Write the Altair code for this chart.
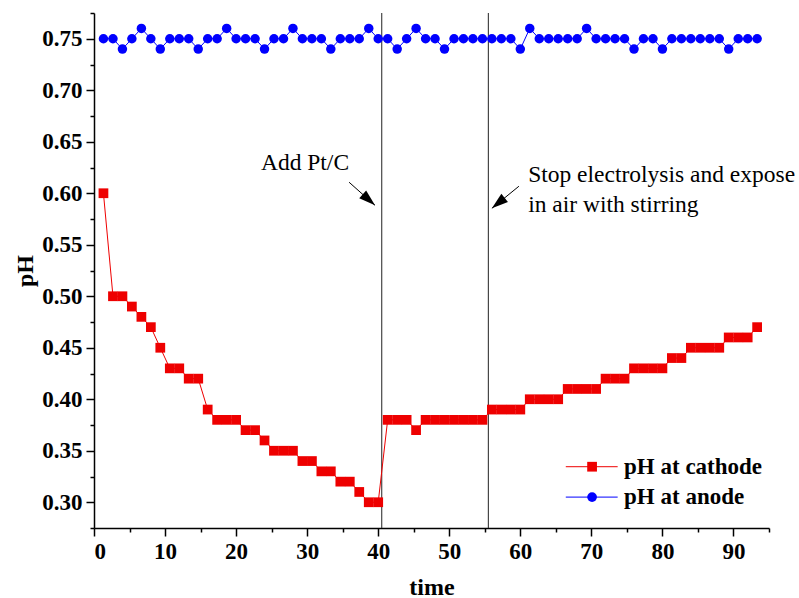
import altair as alt
import pandas as pd

# ---------------- data ----------------
time = [1.33, 2.67, 4.00, 5.33, 6.67, 8.00, 9.33, 10.67, 12.00, 13.33,
        14.67, 16.00, 17.33, 18.67, 20.00, 21.33, 22.67, 24.00, 25.33, 26.67,
        28.00, 29.33, 30.67, 32.00, 33.33, 34.67, 36.00, 37.33, 38.67, 40.00,
        41.33, 42.67, 44.00, 45.33, 46.67, 48.00, 49.33, 50.67, 52.00, 53.33,
        54.67, 56.00, 57.33, 58.67, 60.00, 61.33, 62.67, 64.00, 65.33, 66.67,
        68.00, 69.33, 70.67, 72.00, 73.33, 74.67, 76.00, 77.33, 78.67, 80.00,
        81.33, 82.67, 84.00, 85.33, 86.67, 88.00, 89.33, 90.67, 92.00, 93.33]

ph_cathode = [0.60, 0.50, 0.50, 0.49, 0.48, 0.47, 0.45, 0.43, 0.43, 0.42,
              0.42, 0.39, 0.38, 0.38, 0.38, 0.37, 0.37, 0.36, 0.35, 0.35,
              0.35, 0.34, 0.34, 0.33, 0.33, 0.32, 0.32, 0.31, 0.30, 0.30,
              0.38, 0.38, 0.38, 0.37, 0.38, 0.38, 0.38, 0.38, 0.38, 0.38,
              0.38, 0.39, 0.39, 0.39, 0.39, 0.40, 0.40, 0.40, 0.40, 0.41,
              0.41, 0.41, 0.41, 0.42, 0.42, 0.42, 0.43, 0.43, 0.43, 0.43,
              0.44, 0.44, 0.45, 0.45, 0.45, 0.45, 0.46, 0.46, 0.46, 0.47]

ph_anode = [0.75, 0.75, 0.74, 0.75, 0.76, 0.75, 0.74, 0.75, 0.75, 0.75,
            0.74, 0.75, 0.75, 0.76, 0.75, 0.75, 0.75, 0.74, 0.75, 0.75,
            0.76, 0.75, 0.75, 0.75, 0.74, 0.75, 0.75, 0.75, 0.76, 0.75,
            0.75, 0.74, 0.75, 0.76, 0.75, 0.75, 0.74, 0.75, 0.75, 0.75,
            0.75, 0.75, 0.75, 0.75, 0.74, 0.76, 0.75, 0.75, 0.75, 0.75,
            0.75, 0.76, 0.75, 0.75, 0.75, 0.75, 0.74, 0.75, 0.75, 0.74,
            0.75, 0.75, 0.75, 0.75, 0.75, 0.75, 0.74, 0.75, 0.75, 0.75]

series_names = ["pH at cathode", "pH at anode"]
series_colors = ["#ee0000", "#0000ff"]
series_shapes = ["square", "circle"]

x_major = [0, 10, 20, 30, 40, 50, 60, 70, 80, 90]
x_minor = [5, 15, 25, 35, 45, 55, 65, 75, 85, 95]
y_major = [0.30, 0.35, 0.40, 0.45, 0.50, 0.55, 0.60, 0.65, 0.70, 0.75]
y_minor = [0.275, 0.325, 0.375, 0.425, 0.475, 0.525, 0.575, 0.625, 0.675, 0.725, 0.775]

event_times = [40.5, 55.5]

note_text = ["Add Pt/C", "Stop electrolysis and expose", "in air with stirring"]
note_x = [35.9, 61.1, 61.1]
note_y = [0.629, 0.6176, 0.5884]
note_align = ["right", "left", "left"]

arrow_x = [35.9, 59.8]
arrow_y = [0.6107, 0.6068]
arrow_x2 = [39.55, 56.0]
arrow_y2 = [0.5883, 0.5854]
arrow_angle = [131.5, 230.8]

legend_y = [0.3345, 0.305]
legend_line_x = [66.4, 73.7]
legend_mark_x = 70.1
legend_text_x = 74.6

# ---------------- chart ----------------
FONT = "Liberation Serif"
X_DOMAIN = [0, 95]
Y_DOMAIN = [0.275, 0.775]

xs = alt.Scale(domain=X_DOMAIN, nice=False, zero=False)
ys = alt.Scale(domain=Y_DOMAIN, nice=False, zero=False)

cath = pd.DataFrame({"time": time, "pH": ph_cathode})
anod = pd.DataFrame({"time": time, "pH": ph_anode})

major_x_axis = alt.Axis(values=x_major, tickSize=8, title="time", orient="bottom",
                        format="d", labelPadding=4, titlePadding=12)
major_y_axis = alt.Axis(values=y_major, tickSize=8, title="pH", orient="left",
                        format=".2f", labelPadding=4, titlePadding=4)
minor_x_axis = alt.Axis(values=x_minor, tickSize=4, labels=False, title=None,
                        orient="bottom", domain=False)
minor_y_axis = alt.Axis(values=y_minor, tickSize=4, labels=False, title=None,
                        orient="left", domain=False)

cath_line = alt.Chart(cath).mark_line(color=series_colors[0], strokeWidth=1).encode(
    x=alt.X("time:Q", scale=xs, axis=major_x_axis),
    y=alt.Y("pH:Q", scale=ys, axis=major_y_axis),
)
cath_pts = alt.Chart(cath).mark_point(shape=series_shapes[0], filled=True, size=95,
                                      opacity=1, color=series_colors[0]).encode(
    x=alt.X("time:Q", scale=xs, axis=None),
    y=alt.Y("pH:Q", scale=ys, axis=None),
)
anod_line = alt.Chart(anod).mark_line(color=series_colors[1], strokeWidth=1).encode(
    x=alt.X("time:Q", scale=xs, axis=minor_x_axis),
    y=alt.Y("pH:Q", scale=ys, axis=minor_y_axis),
)
anod_pts = alt.Chart(anod).mark_point(shape=series_shapes[1], filled=True, size=90,
                                      opacity=1, color=series_colors[1]).encode(
    x=alt.X("time:Q", scale=xs, axis=None),
    y=alt.Y("pH:Q", scale=ys, axis=None),
)

events = alt.Chart(pd.DataFrame({"t": event_times})).mark_rule(
    color="#222222", strokeWidth=1).encode(x=alt.X("t:Q", scale=xs, axis=None))

notes_df = pd.DataFrame({"text": note_text, "x": note_x, "y": note_y, "align": note_align})
notes_r = alt.Chart(notes_df[notes_df["align"] == "right"]).mark_text(
    font=FONT, fontSize=23.5, align="right", baseline="middle", color="black").encode(
    x=alt.X("x:Q", scale=xs, axis=None), y=alt.Y("y:Q", scale=ys, axis=None), text="text:N")
notes_l = alt.Chart(notes_df[notes_df["align"] == "left"]).mark_text(
    font=FONT, fontSize=23.5, align="left", baseline="middle", color="black").encode(
    x=alt.X("x:Q", scale=xs, axis=None), y=alt.Y("y:Q", scale=ys, axis=None), text="text:N")

arrows_df = pd.DataFrame({"x": arrow_x, "y": arrow_y, "x2": arrow_x2, "y2": arrow_y2,
                          "angle": arrow_angle})
shafts = alt.Chart(arrows_df).mark_rule(color="black", strokeWidth=1).encode(
    x=alt.X("x:Q", scale=xs, axis=None), y=alt.Y("y:Q", scale=ys, axis=None),
    x2="x2:Q", y2="y2:Q")
heads = alt.Chart(arrows_df).mark_point(
    shape="M0,0L-0.6,1.9L0.6,1.9Z", filled=True, size=300, opacity=1, color="black").encode(
    x=alt.X("x2:Q", scale=xs, axis=None), y=alt.Y("y2:Q", scale=ys, axis=None),
    angle=alt.Angle("angle:Q", scale=None))

leg_df = pd.DataFrame({"label": series_names, "color": series_colors,
                       "shape": series_shapes, "y": legend_y,
                       "x1": [legend_line_x[0]] * 2, "x2": [legend_line_x[1]] * 2,
                       "xm": [legend_mark_x] * 2, "xt": [legend_text_x] * 2})
leg_lines = alt.Chart(leg_df).mark_rule(strokeWidth=1).encode(
    x=alt.X("x1:Q", scale=xs, axis=None), x2="x2:Q",
    y=alt.Y("y:Q", scale=ys, axis=None), color=alt.Color("color:N", scale=None))
leg_marks = alt.Chart(leg_df).mark_point(filled=True, size=95, opacity=1).encode(
    x=alt.X("xm:Q", scale=xs, axis=None), y=alt.Y("y:Q", scale=ys, axis=None),
    color=alt.Color("color:N", scale=None), shape=alt.Shape("shape:N", scale=None))
leg_text = alt.Chart(leg_df).mark_text(font=FONT, fontSize=23, fontWeight="bold",
                                       align="left", baseline="middle", color="black").encode(
    x=alt.X("xt:Q", scale=xs, axis=None), y=alt.Y("y:Q", scale=ys, axis=None),
    text="label:N")

chart = alt.layer(
    events, cath_line, anod_line, cath_pts, anod_pts,
    shafts, heads, notes_r, notes_l, leg_lines, leg_marks, leg_text,
).resolve_axis(x="independent", y="independent").properties(
    width=675, height=515,
    autosize=alt.AutoSizeParams(type="none"),
    padding={"left": 94, "top": 13, "right": 30, "bottom": 70},
    background="white",
).configure_view(stroke=None).configure_axis(
    grid=False,
    domainColor="black", domainWidth=1.5,
    tickColor="black", tickWidth=1.5,
    labelFont=FONT, labelFontSize=23, labelFontWeight="bold", labelColor="black",
    titleFont=FONT, titleFontSize=24, titleFontWeight="bold", titleColor="black",
    labelOverlap=False,
)

chart.save("out.html", embed_options={"renderer": "svg", "actions": False})
